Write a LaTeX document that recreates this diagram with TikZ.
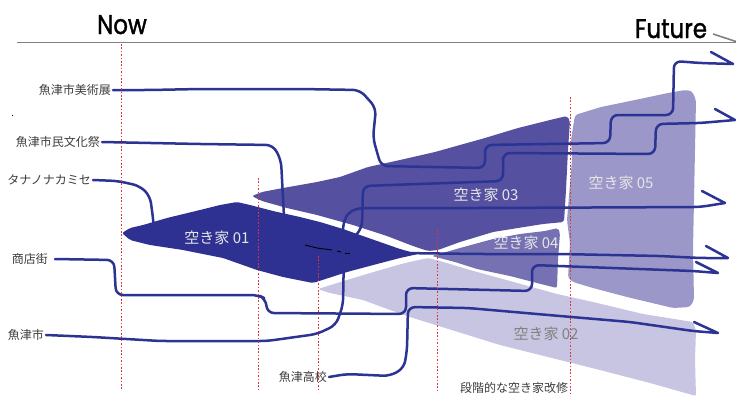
\documentclass[tikz,border=0pt]{standalone}
\usepackage{fontspec}
\newfontfamily\jpfont{Noto Sans CJK JP}
\newfontfamily\titlefont[FakeStretch=0.85,FakeBold=1.4]{Poppins}
\definecolor{cOne}{HTML}{2E3192}
\definecolor{cThree}{HTML}{5550A0}
\definecolor{cFour}{HTML}{7571B3}
\definecolor{cFive}{HTML}{9C97C9}
\definecolor{cTwo}{HTML}{C7C5E2}
\definecolor{lineblue}{HTML}{2B3393}
\definecolor{reddot}{HTML}{D8353F}
\definecolor{tlgray}{HTML}{808080}
\definecolor{labgray}{HTML}{3C3C3C}
\tikzset{
  flow/.style={draw=lineblue, line width=2.5pt, line cap=round, line join=round, rounded corners=7pt},
  reddots/.style={draw=reddot, line width=1pt, dash pattern=on 1.6pt off 1.8pt},
  lab/.style={font=\jpfont\fontsize{12}{12}\selectfont, text=labgray, inner xsep=2pt, inner ysep=0pt, anchor=east},
  houselab/.style={font=\jpfont\fontsize{15}{15}\selectfont, inner sep=0pt},
  titlelab/.style={font=\titlefont\fontsize{27}{27}\selectfont, text=black, inner sep=0pt, anchor=base},
  timeline/.style={draw=tlgray, line width=1.6pt}
}
\begin{document}
\begin{tikzpicture}[x=1pt,y=-1pt]
\useasboundingbox (0,0) rectangle (736,397);
% timeline
\coordinate (tl0) at (17,42.5);
\coordinate (tl1) at (736,42.5);
\coordinate (tlb) at (713,34);
\coordinate (tlt) at (736,41.5);
\draw[timeline] (tl0) -- (tl1);
\draw[timeline] (tlb) -- (tlt);
\fill[black] (11.5,114.5) rectangle (13,116);
% shapes behind the lines
\fill[cTwo, rounded corners=2pt] (318,289) -- (347,280) -- (377,271) -- (405,263) -- (428,258) -- (440,261) -- (470,270) -- (510,281) -- (557,294) -- (593,302) -- (643,314) -- (693,322) -- (696,330) -- (695,360) -- (696,396) -- (650,383) -- (600,370) -- (500,345) -- (413,318) -- (390,310) -- (363,300) -- (330,293) -- cycle;
\fill[cThree, rounded corners=2pt] (252,196) -- (262,192) -- (283,188) -- (317,182) -- (340,177) -- (368,167) -- (400,160) -- (435,152) -- (485,138) -- (518,128) -- (550,120) -- (567,116) -- (570,121) -- (568,150) -- (566,190) -- (564,222) -- (543,224) -- (493,232) -- (460,242) -- (438,250) -- (428,251) -- (413,246) -- (387,236) -- (353,225) -- (317,215) -- (287,208) -- (262,201) -- cycle;
\fill[cFour, rounded corners=2pt] (432,256) -- (460,248) -- (493,239) -- (520,234) -- (545,231) -- (558,228) -- (560,233) -- (558,260) -- (557,288) -- (537,283) -- (510,276) -- (477,269) -- (455,262) -- cycle;
\fill[cFive, rounded corners=3pt] (575,115) -- (601,107) -- (635,100) -- (668,93) -- (685,90) -- (692,91) -- (696,100) -- (695,150) -- (694,200) -- (693,250) -- (694,300) -- (690,307) -- (673,308) -- (627,297) -- (593,288) -- (573,282) -- (568,278) -- (570,243) -- (567,220) -- (572,160) -- (571,140) -- cycle;
% labels
\node[lab] (bijutsu) at (113,90) {魚津市美術展};
\node[lab] (bunka) at (102,142) {魚津市民文化祭};
\node[lab] (tana) at (93,180) {タナノナカミセ};
\node[lab] (shoten) at (50,259) {商店街};
\node[lab] (uozu) at (46,335) {魚津市};
\node[lab] (koko) at (329,377) {魚津高校};
\node[lab, anchor=center] (kaishu) at (514,388) {段階的な空き家改修};
% coordinates
\coordinate (tipA) at (733,64);  \coordinate (barbA) at (711,52);
\coordinate (tipB) at (735,120); \coordinate (barbB) at (715,109);
\coordinate (tipC) at (725,203); \coordinate (barbC) at (702,191);
\coordinate (tipD) at (728,258); \coordinate (barbD) at (706,246);
\coordinate (tipE) at (718,273); \coordinate (barbE) at (696,262);
\coordinate (tipF) at (718,333); \coordinate (barbF) at (694,322);
\coordinate (inB) at (350,242);
\coordinate (inD) at (400,253);
\coordinate (inG) at (285,228);
\coordinate (inH) at (154,229);
% flow lines
\draw[flow] (bijutsu.east) -- (150,90) -- (200,89) -- (300,89) -- (360,90) -- (376,108) -- (373,138) -- (381,166) -- (485,168) -- (485,145) -- (610,143) -- (611,115) -- (673,115) -- (674,61) -- (700,63) [sharp corners] -- (tipA) -- (barbA);
\draw[flow] (inB) -- (362,228) -- (363,186) -- (503,181) -- (503,153) -- (655,154) -- (656,124) -- (700,123) [sharp corners] -- (tipB) -- (barbB);
\draw[flow] (uozu.east) -- (93,337) -- (160,341) -- (267,341) -- (317,334) -- (336,325) -- (343,305) -- (344,250) [sharp corners] -- (343,232) .. controls (343,215) and (350,208) .. (366,208) [rounded corners=7pt] -- (480,208) -- (700,207) [sharp corners] -- (tipC) -- (barbC);
\draw[flow] (inD) -- (480,254) -- (560,254) -- (660,256) -- (700,258) [sharp corners] -- (tipD) -- (barbD);
\draw[flow] ([xshift=5pt]shoten.east) -- (114,260) -- (116,295) -- (258,295) -- (266,299) -- (267,313) -- (406,314) -- (406,288) -- (532,291) -- (532,265) -- (693,271) [sharp corners] -- (tipE) -- (barbE);
\draw[flow] (koko.east) -- (347,374) -- (390,376) -- (404,368) -- (407,350) -- (408,307) -- (468,308) -- (560,316) -- (630,322) -- (693,331) [sharp corners] -- (tipF) -- (barbF);
\draw[flow] (bunka.east) -- (200,144) -- (273,145) -- (281,160) -- (284,217) -- (inG);
\draw[flow] (tana.east) -- (118,181) -- (140,186) -- (150,196) -- (153,218) -- (inH);
% shape 01 on top
\fill[cOne, rounded corners=2pt] (122,233) -- (130,228) -- (143,225) -- (167,218) -- (200,210) -- (220,205) -- (237,202) -- (250,205) -- (273,211) -- (300,217) -- (320,222) -- (343,229) -- (360,235) -- (380,242) -- (400,249) -- (418,254) -- (400,258) -- (377,264) -- (347,272) -- (313,283) -- (283,277) -- (257,270) -- (223,258) -- (183,250) -- (150,245) -- (130,240) -- cycle;
\draw[black, line width=0.9pt] (305,245) -- (317,248) -- (332,250);
\draw[black, line width=0.9pt] (337,251) -- (341,252);
\draw[black, line width=0.9pt] (345,253) -- (350,253);
% red dotted time markers
\draw[reddots] (121,44) -- (121,390);
\draw[reddots] (258,178) -- (258,392);
\draw[reddots] (318,256) -- (318,392);
\draw[reddots] (437,230) -- (437,393);
\draw[reddots] (570,97) -- (570,394);
% house labels
\node[houselab, text=white!90!black] (h1) at (217,238) {空き家 01};
\node[houselab, text=white!90!black] (h3) at (486,195) {空き家 03};
\node[houselab, text=white!90!black] (h4) at (526,243) {空き家 04};
\node[houselab, text=white!90!black] (h5) at (621,183) {空き家 05};
\node[houselab, text=black!50] (h2) at (546,334) {空き家 02};
% titles
\node[titlelab] (now) at (122,34) {Now};
\node[titlelab] (future) at (671,38) {Future};
\end{tikzpicture}
\end{document}
